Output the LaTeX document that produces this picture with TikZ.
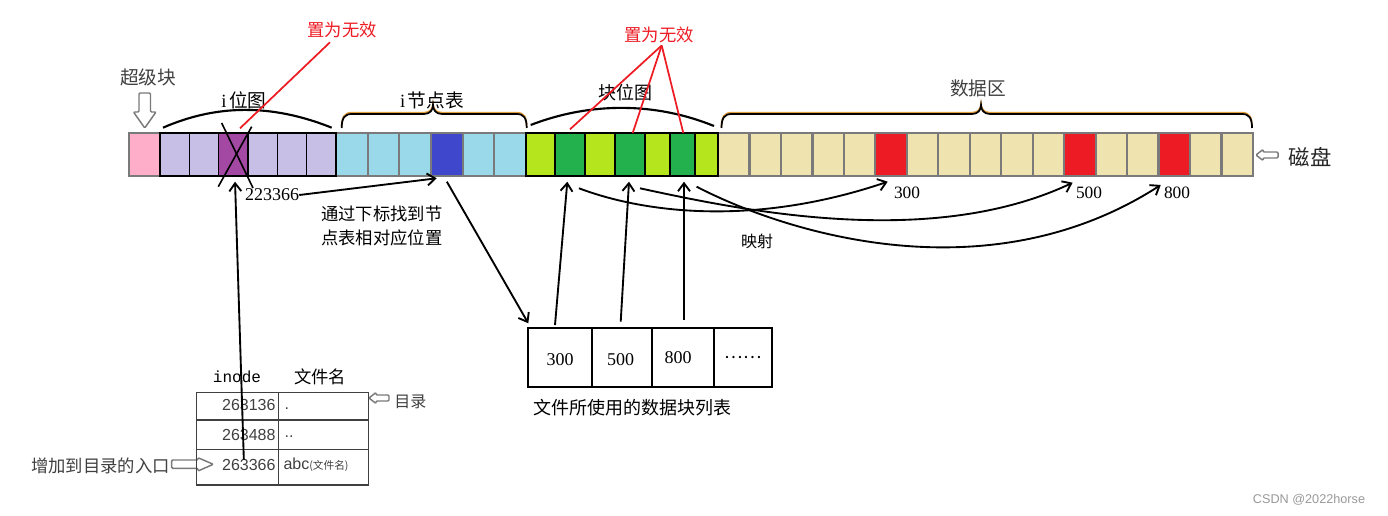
\documentclass[tikz,border=0pt]{standalone}
\usepackage{fontspec}
\setmainfont{Liberation Serif}
\setsansfont{Liberation Sans}
\setmonofont{Liberation Mono}
\newfontfamily\cjk{Noto Sans CJK SC}
\usetikzlibrary{arrows.meta,calc}
\newdimen\pxu \pxu=0.75pt
\definecolor{pinkc}{HTML}{FFAEC9}
\definecolor{lavc}{HTML}{C8BFE7}
\definecolor{purpc}{HTML}{A349A4}
\definecolor{lbluec}{HTML}{99D9EA}
\definecolor{dbluec}{HTML}{3F48CC}
\definecolor{limec}{HTML}{B5E61D}
\definecolor{greenc}{HTML}{22B14C}
\definecolor{beigec}{HTML}{EFE4B0}
\definecolor{redc}{HTML}{ED1C24}
\definecolor{bracec}{HTML}{E39A3B}
\definecolor{shadec}{HTML}{7A7A7A}
\definecolor{txtgray}{HTML}{404040}
\newcommand\mybrace[3]{(#1,128) .. controls (#1,118) and ({#1+3},114) .. ({#1+10},114) -- ({#2-9},114) .. controls ({#2-3},114) and (#2,110) .. (#2,105) .. controls (#2,110) and ({#2+3},114) .. ({#2+9},114) -- ({#3-10},114) .. controls ({#3-3},114) and (#3,118) .. (#3,128)}
\tikzset{
  cellbase/.style={inner sep=0pt, outer sep=0pt, anchor=north west, minimum height=43*\pxu},
  graycell/.style={cellbase, draw=shadec, line width=1.7pt},
  blackcell/.style={cellbase, draw=black, line width=1.1pt},
  tcell/.style={inner sep=0pt, outer sep=0pt, anchor=north west, draw=txtgray, line width=1pt},
  listcell/.style={inner sep=0pt, outer sep=0pt, anchor=north west, draw=black, line width=1.4pt, minimum height=58.4*\pxu},
  arr/.style={-{Straight Barb[length=6pt,width=9pt]}, line width=1.4pt},
  redln/.style={draw=redc, line width=1.3pt},
  hump/.style={line width=1.6pt},
  bracesh/.style={draw=bracec, line width=1.2pt},
  bracemain/.style={draw=black, line width=1.3pt},
  hollow/.style={draw=shadec, fill=white, line width=1.1pt, rounded corners=0.8pt},
  zh/.style={font=\cjk\fontsize{#1}{#1}\selectfont, inner sep=0pt},
  numf/.style={font=\fontsize{13}{13}\selectfont, inner sep=0pt},
  tnum/.style={font=\sffamily\fontsize{12}{12}\selectfont, text=txtgray, inner sep=0pt},
}
\begin{document}
\begin{tikzpicture}[x=0.75pt,y=-0.75pt]
\useasboundingbox[fill=white] (0,0) rectangle (1388,516);

% ---- disk strip: gray-bordered cells ----
\node[graycell, fill=pinkc, minimum width=31*\pxu] (sb) at (129,133) {};
\foreach \i in {1,...,6}{
  \pgfmathsetmacro\xx{336+(\i-1)*31.67}
  \ifnum\i=4 \def\cc{dbluec}\else\def\cc{lbluec}\fi
  \node[graycell, fill=\cc, minimum width=31.67*\pxu] (it\i) at (\xx,133) {};
}
\foreach \i in {1,...,17}{
  \pgfmathsetmacro\xx{718+(\i-1)*31.47}
  \def\cc{beigec}
  \ifnum\i=6 \def\cc{redc}\fi
  \ifnum\i=12 \def\cc{redc}\fi
  \ifnum\i=15 \def\cc{redc}\fi
  \node[graycell, fill=\cc, minimum width=31.47*\pxu] (d\i) at (\xx,133) {};
}
% ---- i bitmap ----
\foreach \i in {1,...,6}{
  \pgfmathsetmacro\xx{160+(\i-1)*29.33}
  \ifnum\i=3 \def\cc{purpc}\else\def\cc{lavc}\fi
  \node[blackcell, fill=\cc, minimum width=29.33*\pxu] (ib\i) at (\xx,133) {};
}
\draw[line width=1.6pt] (ib1.north west) rectangle (ib6.south east);
% ---- block bitmap ----
\foreach \a/\b/\cc [count=\i] in {526/555/limec,555/585/greenc,585/615/limec,615/645/greenc,645/670/limec,670/695/greenc,695/718/limec}{
  \node[blackcell, fill=\cc, minimum width={(\b-\a)*\pxu}] (bb\i) at (\a,133) {};
}
\draw[line width=1.6pt] (bb1.north west) rectangle (bb7.south east);

% cross on the purple cell
\draw[line width=1.2pt] ($(ib3.north west)+(3,-10)$) -- ($(ib3.south east)+(5,12)$);
\draw[line width=1.2pt] ($(ib3.north east)+(3.7,-6.3)$) -- ($(ib3.south west)+(-0.4,10.7)$);

% humps and braces
\draw[hump] (163,127.7) .. controls (215,105) and (270,103) .. (331.7,127.7);
\draw[hump] (530.7,125) .. controls (590,102) and (655,102) .. (714,126);
\draw[bracesh, yshift=1pt] \mybrace{341.7}{433}{526.7};
\draw[bracemain] \mybrace{341.7}{433}{526.7};
\draw[bracesh, yshift=1pt] \mybrace{721.5}{981}{1252};
\draw[bracemain] \mybrace{721.5}{981}{1252};

% labels above
\node[zh=14, text=txtgray] (tsb) at (148,77) {超级块};
\node[zh=14] (tib) at (244,100) {{\rmfamily i}\hspace{2pt}位图};
\node[zh=14] (tit) at (432,100) {{\rmfamily i}\hspace{2pt}节点表};
\node[zh=13.5] (tbb) at (625,93) {块位图};
\node[zh=14, text=txtgray] (tdz) at (978,88) {数据区};
\node[zh=16, text=black!85] (tcp) at (1310,157) {磁盘};
\node[zh=13, text=redc] (rt1) at (342,30) {置为无效};
\node[zh=13, text=redc] (rt2) at (659,35) {置为无效};

% red lines
\draw[redln] ($(rt1.south)+(-12,4)$) -- ($(ib3.north)+(6.7,-4.7)$);
\draw[redln] ($(rt2.south)+(2.7,2.2)$) -- ($(bb2.north)+(0,-3.7)$);
\draw[redln] ($(rt2.south)+(2.7,2.2)$) -- ($(bb4.north)+(2.7,0)$);
\draw[redln] ($(rt2.south)+(2.7,2.2)$) -- ($(bb6.north)+(0.8,0)$);

% hollow pointer arrows
\draw[hollow] (139,93) -- (150.5,93) -- (150.5,112) -- (156,112) -- (144.75,128) -- (133.5,112) -- (139,112) -- cycle;
\draw[hollow] (1256,155) -- (1263,149.5) -- (1263,152) -- (1278,152) -- (1278,158) -- (1263,158) -- (1263,160.5) -- cycle;
\draw[hollow] (369,398) -- (376,392.5) -- (376,395) -- (389,395) -- (389,401) -- (376,401) -- (376,403.5) -- cycle;
\draw[hollow] (171.7,460) -- (198,460) -- (198,457.7) -- (213.3,464.3) -- (198,471) -- (198,468.3) -- (171.7,468.3) -- cycle;

% middle labels
\node[font=\fontsize{13.5}{13.5}\selectfont, inner sep=0pt] (n223) at (272,195) {223366};
\node[font=\cjk\fontsize{13}{17.5}\selectfont, align=left, anchor=north west, inner sep=0pt] (tg) at (321,206) {通过下标找到节\\点表相对应位置};
\node[zh=12] (ys) at (757,241) {映射};
\node[numf] (l300) at (907,193) {300};
\node[numf] (l500) at (1089,192.5) {500};
\node[numf] (l800) at (1177,192.5) {800};

% block list
\foreach \a/\b [count=\i] in {528.3/592.3, 592.3/652.3, 652.3/714.3, 714.3/771.7}{
  \node[listcell, minimum width={(\b-\a)*\pxu}] (L\i) at (\a,328.3) {};
}
\node[font=\fontsize{13.5}{13.5}\selectfont, inner sep=0pt] (lv1) at (560,360) {300};
\node[font=\fontsize{13.5}{13.5}\selectfont, inner sep=0pt] (lv2) at (620.5,360) {500};
\node[font=\fontsize{13.5}{13.5}\selectfont, inner sep=0pt] (lv3) at (678,358) {800};
\node[font=\cjk\fontsize{13}{13}\selectfont, inner sep=0pt] (lv4) at (743,358) {……};
\node[zh=13.5] (lt) at (632,408) {文件所使用的数据块列表};

% directory table
\node[font=\ttfamily\fontsize{12}{12}\selectfont, inner sep=0pt] (hin) at (237,377) {inode};
\node[zh=13] (hfn) at (320,377) {文件名};
\node[tcell, minimum width=81.6*\pxu, minimum height=27.7*\pxu] (t11) at (196.7,392.3) {};
\node[tcell, minimum width=90*\pxu, minimum height=27.7*\pxu] (t12) at (278.3,392.3) {};
\node[tcell, minimum width=81.6*\pxu, minimum height=29.3*\pxu] (t21) at (196.7,420) {};
\node[tcell, minimum width=90*\pxu, minimum height=29.3*\pxu] (t22) at (278.3,420) {};
\node[tcell, minimum width=81.6*\pxu, minimum height=35.7*\pxu] (t31) at (196.7,449.3) {};
\node[tcell, minimum width=90*\pxu, minimum height=35.7*\pxu] (t32) at (278.3,449.3) {};
\node[tnum, anchor=east] (v1) at ($(t11.east)+(-2.5,-1)$) {263136};
\node[tnum, anchor=east] (v2) at ($(t21.east)+(-2.5,0.5)$) {263488};
\node[tnum, anchor=east] (v3) at ($(t31.east)+(-2.5,-2.5)$) {263366};
\node[tnum, anchor=west] (f1) at ($(t12.west)+(6,2)$) {.};
\node[tnum, anchor=west] (f2) at ($(t22.west)+(6,2)$) {..};
\node[tnum, anchor=west] (f3) at ($(t32.west)+(5,-2)$) {abc{\cjk\fontsize{8}{8}\selectfont (文件名)}};
\node[zh=12, text=txtgray, anchor=west] (tml) at (394,402) {目录};
\node[zh=13, text=txtgray, anchor=east] (rk) at (170,466) {增加到目录的入口};

% connectors
\draw[arr] (n223.east) -- ($(it4.south west)+(5.7,2.3)$);
\draw[arr] ($(it4.south)+(0,5.7)$) -- ($(L1.north west)+(0,-5)$);
\draw[arr] ($(v3.north)+(-5,1)$) -- ($(ib3.south)+(1.7,5.7)$);
\draw[arr] ($(L1.north)+(-5.3,-3.3)$) -- ($(bb2.south)+(-2.7,5.7)$);
\draw[arr] ($(L2.north)+(-1.6,-6.6)$) -- ($(bb4.south)+(-1,5.7)$);
\draw[arr] ($(L3.north)+(0.7,-8.3)$) -- ($(bb6.south)+(1.5,5.7)$);
\draw[arr] ($(bb2.south)+(9,12.3)$) .. controls (650,215) and (760,225) .. ($(d6.south)+(-3.4,5.7)$);
\draw[arr] ($(bb4.south)+(10,12.3)$) .. controls (740,210) and (930,250) .. ($(d12.south)+(-7.3,6.7)$);
\draw[arr] ($(bb7.south)+(-9.9,10.7)$) .. controls (790,235) and (990,295) .. ($(d15.south)+(-13.6,9)$);

% watermark
\node[font=\sffamily\fontsize{9.5}{9.5}\selectfont, text=gray!80, inner sep=0pt] (wm) at (1309,500) {CSDN @2022horse};
\end{tikzpicture}
\end{document}
